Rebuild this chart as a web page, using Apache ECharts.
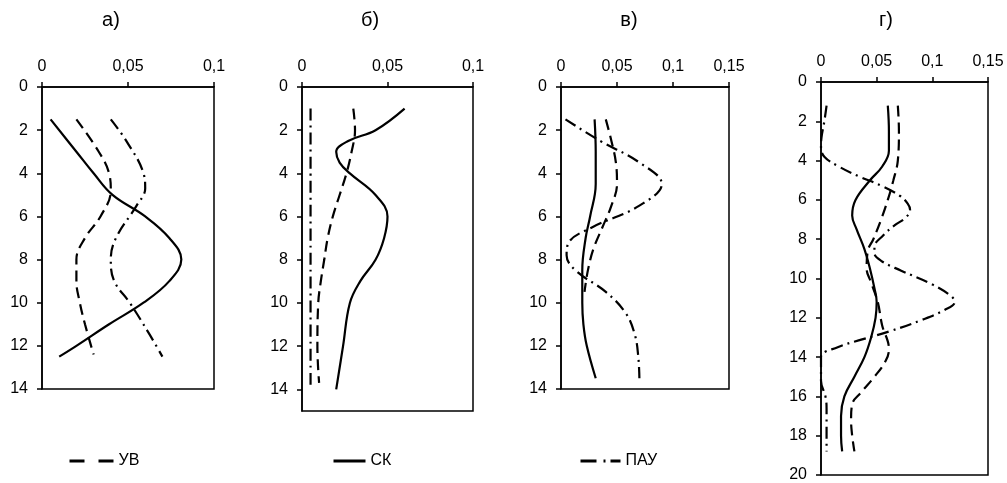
<!DOCTYPE html>
<html>
<head>
<meta charset="utf-8">
<script src="https://cdn.jsdelivr.net/npm/echarts@6/dist/echarts.min.js"></script>
<style>
html, body { margin: 0; padding: 0; background: #fff; }
#chart { width: 1007px; height: 483px; }
</style>
</head>
<body>
<div id="chart"></div>
<script>
/** 数据：每个点为 [含量, 深度] */
var seriesNames = ['УВ', 'СК', 'ПАУ'];
var panelTitles = ['а)', 'б)', 'в)', 'г)'];
var xMaxes = [0.1, 0.1, 0.15, 0.15];
var depthMaxes = [14, 15, 14, 20];
var depthTicksB = [0, 2, 4, 6, 8, 10, 12, 14];

// панель а)
var uvA = [[0.020, 1.5], [0.033, 3], [0.039, 4], [0.040, 4.8], [0.034, 6], [0.025, 7], [0.020, 8], [0.020, 9], [0.022, 10], [0.025, 11], [0.030, 12.4]];
var skA = [[0.005, 1.5], [0.020, 3], [0.030, 4], [0.041, 5], [0.060, 6], [0.074, 7], [0.081, 8], [0.074, 9], [0.059, 10], [0.039, 11], [0.020, 12], [0.010, 12.5]];
var pauA = [[0.040, 1.5], [0.049, 2.5], [0.059, 4], [0.060, 4.7], [0.055, 5.5], [0.043, 7], [0.040, 8], [0.042, 9], [0.051, 10], [0.062, 11.4], [0.070, 12.5]];

// панель б)
var uvB = [[0.030, 1], [0.031, 2], [0.029, 3], [0.026, 4], [0.022, 5], [0.018, 6], [0.015, 7], [0.013, 8], [0.011, 9], [0.0095, 10], [0.009, 12], [0.010, 13.7]];
var skB = [[0.060, 1], [0.043, 2], [0.027, 2.5], [0.020, 3], [0.022, 3.5], [0.028, 4], [0.043, 5], [0.050, 6], [0.048, 7], [0.043, 8], [0.034, 9], [0.028, 10], [0.024, 12], [0.020, 14]];
var pauB = [[0.005, 1], [0.005, 4], [0.005, 7], [0.005, 10], [0.005, 13.8]];

// панель в)
var uvV = [[0.040, 1.5], [0.045, 2.5], [0.049, 3.5], [0.050, 4.5], [0.045, 5.5], [0.037, 6.5], [0.029, 7.5], [0.024, 8.5], [0.021, 9.5]];
var skV = [[0.030, 1.5], [0.031, 3], [0.031, 4.5], [0.026, 6], [0.022, 7], [0.019, 8.5], [0.019, 10], [0.020, 11], [0.023, 12], [0.031, 13.5]];
var pauV = [[0.004, 1.5], [0.035, 2.5], [0.070, 3.5], [0.090, 4.5], [0.070, 5.5], [0.028, 6.5], [0.007, 7.2], [0.005, 7.8], [0.013, 8.5], [0.040, 9.5], [0.058, 10.5], [0.066, 11.5], [0.069, 12.5], [0.070, 13.5]];

// панель г)
var uvG = [[0.069, 1.2], [0.070, 2.5], [0.069, 4], [0.065, 5], [0.060, 6], [0.054, 7], [0.047, 8], [0.042, 8.6], [0.041, 9.5], [0.045, 10.2], [0.051, 11.2], [0.055, 12.4], [0.060, 13.2], [0.061, 13.6], [0.058, 14.2], [0.048, 15], [0.036, 15.8], [0.028, 16.4], [0.027, 17.2], [0.028, 18], [0.030, 18.8]];
var skG = [[0.060, 1.2], [0.061, 2.5], [0.061, 3.5], [0.055, 4.3], [0.044, 5], [0.031, 6], [0.028, 6.8], [0.032, 7.5], [0.039, 8.5], [0.044, 9.5], [0.048, 10.5], [0.050, 11.2], [0.049, 12], [0.045, 13], [0.039, 14], [0.030, 15], [0.021, 16], [0.018, 17], [0.018, 18], [0.019, 18.8]];
var pauG = [[0.005, 1.2], [0.003, 2], [0.0005, 2.8], [0, 3.3], [0.003, 3.8], [0.016, 4.3], [0.034, 4.8], [0.055, 5.3], [0.071, 5.8], [0.078, 6.2], [0.080, 6.5], [0.076, 6.9], [0.066, 7.3], [0.056, 7.8], [0.048, 8.4], [0.048, 8.7], [0.054, 9.1], [0.072, 9.6], [0.100, 10.3], [0.117, 10.9], [0.120, 11.2], [0.111, 11.6], [0.091, 12.1], [0.061, 12.7], [0.037, 13.1], [0.015, 13.5], [0, 14], [0, 15.2], [0.004, 16], [0.005, 16.6], [0.005, 18.8]];

var panelData = [
    [uvA, skA, pauA],
    [uvB, skB, pauB],
    [uvV, skV, pauV],
    [uvG, skG, pauG]
];

/** 布局 */
var grids = [
    {left: 42, top: 87, width: 172, height: 302},
    {left: 302, top: 87, width: 171, height: 324},
    {left: 561, top: 87, width: 168, height: 302},
    {left: 821, top: 82, width: 167, height: 395}
];
var titleX = [111, 370, 629, 886];
var lineTypes = {'УВ': [11, 6], 'СК': 'solid', 'ПАУ': [12, 5, 2, 5]};
var font = 'Liberation Sans';

var myChart = echarts.init(document.getElementById('chart'), null, {renderer: 'canvas'});

var option = {
    animation: false,
    backgroundColor: '#fff',
    textStyle: {fontFamily: font},
    grid: [],
    xAxis: [],
    yAxis: [],
    series: [],
    legend: [
        {data: ['УВ'], left: 68, top: 453, itemWidth: 44, lineStyle: {type: [15, 14], width: 3}},
        {data: ['СК'], left: 332, top: 453, itemWidth: 32, lineStyle: {type: 'solid', width: 3}},
        {data: ['ПАУ'], left: 579, top: 453, itemWidth: 40, lineStyle: {type: [16, 7, 2, 5, 10, 20], width: 3}}
    ],
    graphic: []
};

// 图例只画线，不画圆点
option.legend.forEach(function(l) {
    l.selectedMode = false;
    l.padding = 0;
    l.itemHeight = 14;
    l.itemStyle = {opacity: 0};
    l.textStyle = {color: '#000', fontSize: 16, fontFamily: font};
});

var fmt = function(v) {
    return String(+v.toFixed(2)).replace('.', ',');
};

for (var i = 0; i < 4; i++) {
    option.grid[i] = {
        left: grids[i].left, top: grids[i].top,
        width: grids[i].width, height: grids[i].height,
        show: true, borderColor: '#000', borderWidth: 1.5,
        containLabel: false
    };
    option.xAxis[i] = {
        type: 'value', gridIndex: i, position: 'top',
        min: 0, max: xMaxes[i], interval: 0.05,
        splitLine: {show: false},
        axisLine: {show: true, lineStyle: {color: '#000', width: 1.5}},
        axisTick: {show: true, length: 5, lineStyle: {color: '#000', width: 1.5}},
        axisLabel: {color: '#000', fontSize: 16, fontFamily: font, margin: 12, formatter: fmt}
    };
    var yAxis = {
        type: 'value', gridIndex: i, inverse: true,
        min: 0, max: depthMaxes[i], interval: 2,
        splitLine: {show: false},
        axisLine: {show: true, lineStyle: {color: '#000', width: 1.5}},
        axisTick: {show: true, length: 5, lineStyle: {color: '#000', width: 1.5}},
        axisLabel: {color: '#000', fontSize: 16, fontFamily: font, margin: 14}
    };
    if (i === 1) {
        yAxis.axisLabel.customValues = depthTicksB;
        yAxis.axisTick.customValues = depthTicksB;
    }
    option.yAxis[i] = yAxis;

    for (var j = 0; j < 3; j++) {
        option.series.push({
            name: seriesNames[j],
            type: 'line',
            xAxisIndex: i,
            yAxisIndex: i,
            data: panelData[i][j],
            smooth: 0.4,
            symbol: 'none',
            showSymbol: false,
            clip: false,
            lineStyle: {color: '#000', width: 2.2, type: lineTypes[seriesNames[j]]},
            itemStyle: {color: '#000'}
        });
    }

    option.graphic.push({
        type: 'text',
        x: titleX[i], y: 20,
        style: {
            text: panelTitles[i], fill: '#000',
            font: '20px "' + font + '"',
            textAlign: 'center', textVerticalAlign: 'middle'
        }
    });
}

myChart.setOption(option);
</script>
</body>
</html>
